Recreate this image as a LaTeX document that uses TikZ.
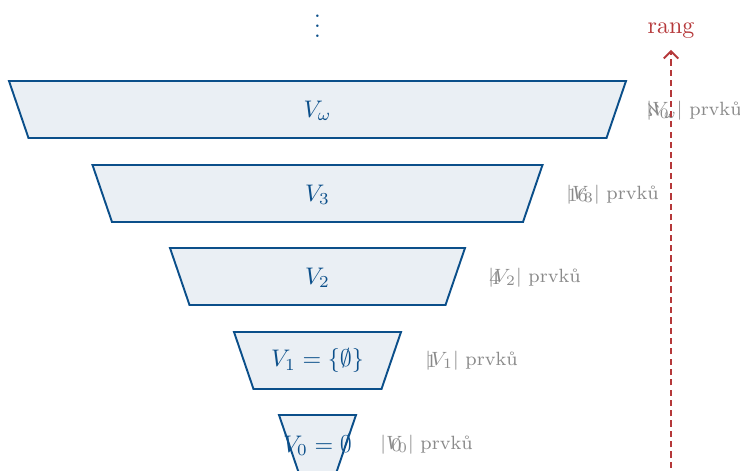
\documentclass[tikz,border=0pt]{standalone}
\usetikzlibrary{arrows.meta}
\definecolor{setblue}{HTML}{0B4F8A}
\definecolor{setfill}{HTML}{EAEFF4}
\definecolor{rankred}{HTML}{B5383A}
\definecolor{lblgray}{HTML}{8A8A8A}
\begin{document}
\begin{tikzpicture}[x=0.4167pt,y=-0.4167pt,
  layer/.style={draw=setblue,fill=setfill,line width=0.8pt,line join=miter},
  setlbl/.style={text=setblue,font=\normalsize},
  sizelbl/.style={text=lblgray,font=\footnotesize,anchor=west,inner sep=0pt},
  numlbl/.style={text=lblgray,font=\footnotesize,anchor=west,inner sep=0pt}]
\useasboundingbox (0,0) rectangle (740,471);
\begin{scope}
\clip (0,0) rectangle (740,471);
\foreach \t/\a in {81/308.5,165/225,248/147.5,332/83.5,415/38.5}{
  \pgfmathsetmacro{\b}{\a-19.5}
  \draw[layer] (317.5-\a,\t) -- (317.5+\a,\t) -- (317.5+\b,\t+57) -- (317.5-\b,\t+57) -- cycle;
}
\end{scope}
\node[setlbl] (Lw) at (317.5,111) {$V_\omega$};
\node[setlbl] (L3) at (317.5,195) {$V_3$};
\node[setlbl] (L2) at (317.5,278) {$V_2$};
\node[setlbl] (L1) at (317.5,361) {$V_1=\{\emptyset\}$};
\node[setlbl] (L0) at (317.5,445) {$V_0=\emptyset$};
\node[text=setblue,inner sep=0pt] (dots) at (317.5,19) {$\vdots$};
% size labels
\node[sizelbl] (Sw) at (646,111) {$|V_\omega|$ prvků};
\node[numlbl]  (Nw) at (647,111) {$\aleph_0$};
\node[sizelbl] (S3) at (566,195) {$|V_3|$ prvků};
\node[numlbl]  (N3) at (567,195) {$16$};
\node[sizelbl] (S2) at (488,278) {$|V_2|$ prvků};
\node[numlbl]  (N2) at (489,278) {$4$};
\node[sizelbl] (S1) at (425,361) {$|V_1|$ prvků};
\node[numlbl]  (N1) at (426,361) {$1$};
\node[sizelbl] (S0) at (380,445) {$|V_0|$ prvků};
\node[numlbl]  (N0) at (391,445) {$0$};
% rank arrow
\coordinate (rb) at (671,468);
\coordinate (rt) at (671,50);
\draw[rankred,line width=0.8pt,dash pattern=on 2.6pt off 1.7pt,-{Straight Barb[length=3pt,width=6pt,line width=0.8pt]}] (rb) -- (rt);
\node[text=rankred,font=\normalsize,anchor=base] (rang) at (671,34) {rang};
\end{tikzpicture}
\end{document}
